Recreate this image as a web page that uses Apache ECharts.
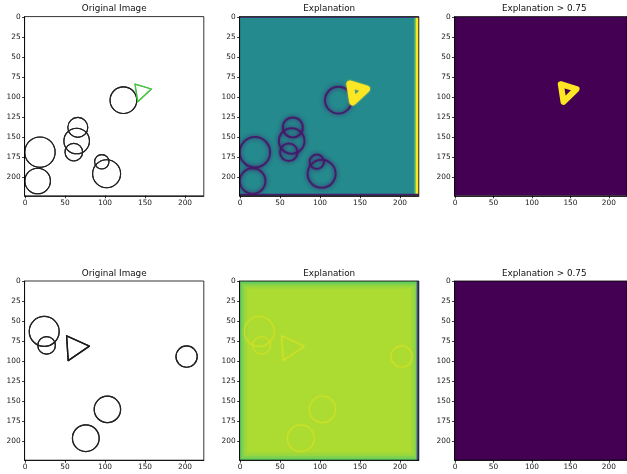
<!DOCTYPE html>
<html>
<head>
<meta charset="utf-8">
<script src="https://cdn.jsdelivr.net/npm/echarts@6/dist/echarts.min.js"></script>
<style>
  html, body { margin: 0; padding: 0; background: #fff; }
  #chartBox { width: 627px; height: 474px; }
</style>
</head>
<body>
<div id="chartBox"></div>
<script>
// ---- data (image pixel coordinates, 224 x 224 images) ----
const xTicks = [0, 50, 100, 150, 200];
const yTicks = [0, 25, 50, 75, 100, 125, 150, 175, 200];
const imageExtent = [-0.5, 223.5];
const panelTitles = ['Original Image', 'Explanation', 'Explanation > 0.75'];

// circles: [cx, cy, r]
const circlesTop = [
  [123, 104, 16.7], [66, 138, 12.5], [64.6, 155, 16], [61, 169, 11],
  [18.7, 169, 19], [15.8, 205, 16], [96, 181, 9], [102, 196, 17.5]
];
const triangleTop = [[137.5, 84], [158, 90], [141, 106]];
const circlesBottom = [
  [24, 62.5, 18.7], [27, 80, 11], [202, 94, 13.3], [103, 160, 16.5], [76, 196, 16.7]
];
const triangleBottom = [[52, 68], [80.5, 81], [54, 99]];

// explanation levels (0..1 on viridis); regions: [x0, y0, x1, y1, level]
const explRegionsTop = [
  [-0.5, -0.5, 223.5, 223.5, 0.47],
  [218, -0.5, 219.6, 223.5, 0.75],
  [219.6, -0.5, 223.5, 223.5, 1.0],
  [-0.5, -0.5, 223.5, 0.8, 0.08],
  [-0.5, 221, 223.5, 223.5, 0.08]
];
const explRingTop = 0.06;
const explShapeTop = 1.0;

const explRegionsBottom = [
  [-0.5, -0.5, 223.5, 223.5, 0.76],
  [2, 2.5, 221, 221, 0.81],
  [5, 5, 218, 218, 0.85],
  [9, 9, 214, 214, 0.875],
  [220.8, -0.5, 223.5, 223.5, 0.2]
];
const explRingBottom = 0.95;

const threshRegionsTop = [[-0.5, -0.5, 223.5, 223.5, 0]];
const threshShapeTop = 1.0;
const threshRegionsBottom = [[-0.5, -0.5, 223.5, 223.5, 0]];

// ---- styling ----
const viridis = ['#440154', '#482475', '#414487', '#355f8d', '#2a788e', '#21918c',
  '#22a884', '#44bf70', '#7ad151', '#bddf26', '#fde725'];
function viridisColor(v) {
  v = Math.max(0, Math.min(1, v));
  const pos = v * (viridis.length - 1);
  const i = Math.min(Math.floor(pos), viridis.length - 2);
  const t = pos - i;
  const a = viridis[i], b = viridis[i + 1];
  const ch = (h, k) => parseInt(h.substr(1 + 2 * k, 2), 16);
  const mix = k => Math.round(ch(a, k) * (1 - t) + ch(b, k) * t);
  return 'rgb(' + mix(0) + ',' + mix(1) + ',' + mix(2) + ')';
}

const colLeft = [24.6, 239.6, 454.6];
const rowTop = [16.6, 281];
const boxSize = 179.2;
const font = 'DejaVu Sans';

let grids = [], xAxes = [], yAxes = [], titles = [], series = [];
for (let r = 0; r < 2; r++) {
  for (let c = 0; c < 3; c++) {
    const g = r * 3 + c;
    grids.push({
      left: colLeft[c], top: rowTop[r], width: boxSize, height: boxSize,
      show: true, z: 10, borderColor: '#000', borderWidth: 0.8,
      backgroundColor: 'transparent', containLabel: false
    });
    xAxes.push({
      gridIndex: g, type: 'value', min: imageExtent[0], max: imageExtent[1],
      position: 'bottom', z: 10,
      axisLine: { show: true, onZero: false, lineStyle: { color: '#000', width: 0.8 } },
      axisTick: { show: true, customValues: xTicks, length: 2.5, lineStyle: { color: '#000', width: 0.8 } },
      axisLabel: { customValues: xTicks, fontSize: 7.4, color: '#1a1a1a', fontFamily: font, margin: 3.5 },
      splitLine: { show: false }
    });
    yAxes.push({
      gridIndex: g, type: 'value', min: imageExtent[0], max: imageExtent[1],
      inverse: true, z: 10,
      axisLine: { show: true, onZero: false, lineStyle: { color: '#000', width: 0.8 } },
      axisTick: { show: true, customValues: yTicks, length: 2.5, lineStyle: { color: '#000', width: 0.8 } },
      axisLabel: { customValues: yTicks, fontSize: 7.4, color: '#1a1a1a', fontFamily: font, margin: 4 },
      splitLine: { show: false }
    });
    titles.push({
      text: panelTitles[c], left: colLeft[c] + boxSize / 2, top: rowTop[r] - 12,
      textAlign: 'center', padding: 0,
      textStyle: { fontSize: 8.8, fontWeight: 'normal', color: '#111', fontFamily: font }
    });
  }
}

function regionSeries(g, regions) {
  return {
    type: 'custom', xAxisIndex: g, yAxisIndex: g, clip: true, silent: true, z: 1,
    data: regions,
    renderItem(params, api) {
      const p0 = api.coord([api.value(0), api.value(1)]);
      const p1 = api.coord([api.value(2), api.value(3)]);
      return {
        type: 'rect',
        shape: {
          x: Math.min(p0[0], p1[0]), y: Math.min(p0[1], p1[1]),
          width: Math.abs(p1[0] - p0[0]), height: Math.abs(p1[1] - p0[1])
        },
        style: { fill: viridisColor(api.value(4)) }
      };
    }
  };
}

function ringSeries(g, circles, color, widthPx, blur, opacity) {
  return {
    type: 'custom', xAxisIndex: g, yAxisIndex: g, clip: true, silent: true, z: 2,
    data: circles,
    renderItem(params, api) {
      const c = api.coord([api.value(0), api.value(1)]);
      const rad = api.size([api.value(2), 0])[0];
      return {
        type: 'circle',
        shape: { cx: c[0], cy: c[1], r: rad },
        style: {
          fill: 'none', stroke: color, lineWidth: widthPx,
          shadowBlur: blur, shadowColor: color, opacity: opacity
        }
      };
    }
  };
}

function triangleSeries(g, tri, color, width, blur, opacity) {
  return {
    type: 'line', xAxisIndex: g, yAxisIndex: g, silent: true, z: 3,
    data: tri.concat([tri[0]]), symbol: 'none',
    lineStyle: {
      color: color, width: width, join: 'round', cap: 'round',
      shadowBlur: blur, shadowColor: color, opacity: opacity
    }
  };
}

// top row
series.push(ringSeries(0, circlesTop, '#222', 1.1, 0.6, 1));
series.push(triangleSeries(0, triangleTop, '#45c43f', 1.2, 0.5, 1));
series.push(regionSeries(1, explRegionsTop));
series.push(ringSeries(1, circlesTop, viridisColor(explRingTop), 2, 4, 0.9));
series.push(triangleSeries(1, triangleTop, viridisColor(explShapeTop), 7, 2, 1));
series.push(regionSeries(2, threshRegionsTop));
series.push(triangleSeries(2, triangleTop, viridisColor(threshShapeTop), 6, 0, 1));
// bottom row
series.push(ringSeries(3, circlesBottom, '#222', 1.2, 0.6, 1));
series.push(triangleSeries(3, triangleBottom, '#1a1a1a', 1.4, 0.5, 1));
series.push(regionSeries(4, explRegionsBottom));
series.push(ringSeries(4, circlesBottom, viridisColor(explRingBottom), 1.2, 2, 0.5));
series.push(triangleSeries(4, triangleBottom, viridisColor(explRingBottom), 1.2, 2, 0.6));
series.push(regionSeries(5, threshRegionsBottom));

const myChart = echarts.init(document.getElementById('chartBox'));
myChart.setOption({
  animation: false,
  backgroundColor: '#fff',
  title: titles,
  grid: grids,
  xAxis: xAxes,
  yAxis: yAxes,
  series: series
});
</script>
</body>
</html>
